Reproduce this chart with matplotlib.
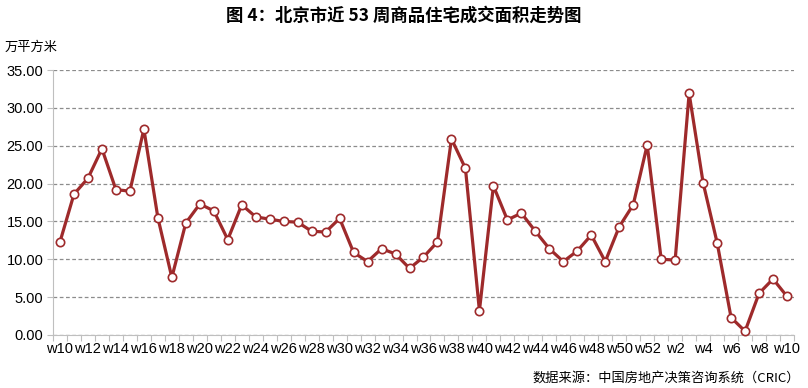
import matplotlib.pyplot as plt
from matplotlib.ticker import FixedLocator

plt.rcParams['font.family'] = ['Liberation Sans', 'Noto Sans CJK SC', 'DejaVu Sans']

weeks = [f"w{i}" for i in range(10, 53)] + [f"w{i}" for i in range(1, 11)]
area = [12.3, 18.6, 20.7, 24.6, 19.2, 19.0, 27.2, 15.5, 7.6, 14.8,
        17.3, 16.4, 12.6, 17.2, 15.6, 15.3, 15.0, 14.9, 13.7, 13.6,
        15.4, 10.9, 9.7, 11.4, 10.7, 8.8, 10.3, 12.3, 25.9, 22.0,
        3.2, 19.7, 15.2, 16.1, 13.7, 11.4, 9.7, 11.1, 13.2, 9.7,
        14.3, 17.2, 25.1, 10.0, 9.9, 31.9, 20.1, 12.2, 2.3, 0.5,
        5.5, 7.4, 5.1]

title = "图 4：北京市近 53 周商品住宅成交面积走势图"
unit = "万平方米"
source = "数据来源：中国房地产决策咨询系统（CRIC）"

fig = plt.figure(figsize=(8.08, 3.88), dpi=100)
ax = fig.add_axes([53/808, 1-335/388, 741/808, 265/388])

x = list(range(len(weeks)))
ax.plot(x, area, color="#9e2a2b", lw=2.3, marker="o", ms=6,
        markerfacecolor="white", markeredgecolor="#9e2a2b", markeredgewidth=1.2,
        zorder=3, clip_on=False)

ax.set_xlim(-0.5, len(weeks) - 0.5)
ax.set_ylim(0, 35)
ax.set_yticks([0, 5, 10, 15, 20, 25, 30, 35])
ax.set_yticklabels([f"{v:.2f}" for v in [0, 5, 10, 15, 20, 25, 30, 35]], fontsize=10.5)
ax.yaxis.grid(True, ls=(0, (3, 2)), color="#8c8c8c", lw=0.9)
ax.set_axisbelow(True)

# ticks at category boundaries, labels on every other week
ax.xaxis.set_major_locator(FixedLocator([i - 0.5 for i in range(len(weeks) + 1)]))
ax.set_xticklabels([])
ax.xaxis.set_minor_locator(FixedLocator(x[::2]))
ax.set_xticklabels(weeks[::2], minor=True, fontsize=10.5)
ax.tick_params(axis="x", which="major", length=4, color="#bfbfbf", direction="out")
ax.tick_params(axis="x", which="minor", length=0, pad=5)
ax.tick_params(axis="y", length=4, color="#bfbfbf", pad=3)

for s in ["top", "right"]:
    ax.spines[s].set_visible(False)
for s in ["left", "bottom"]:
    ax.spines[s].set_color("#bfbfbf")

fig.text(0.5, 1 - 16/388, title, ha="center", va="center", fontsize=12.5,
         fontweight="bold", family=["Noto Sans CJK SC", "DejaVu Sans"])
fig.text(5/808, 1 - 47/388, unit, ha="left", va="center", fontsize=9.5,
         family=["Noto Sans CJK SC", "DejaVu Sans"])
fig.text(800/808, 1 - 378/388, source, ha="right", va="center", fontsize=9.5,
         family=["Noto Sans CJK SC", "DejaVu Sans"])

fig.savefig("out.png", dpi=100)
